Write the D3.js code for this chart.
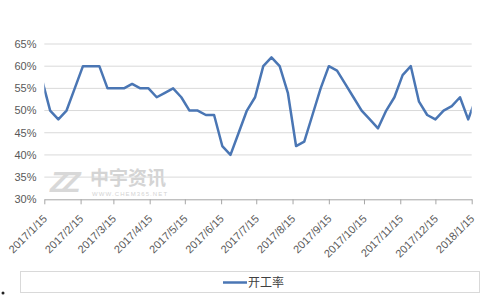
<!DOCTYPE html>
<html>
<head>
<meta charset="utf-8">
<script src="https://cdn.jsdelivr.net/npm/d3@7"></script>
<style>
  body { margin: 0; background: #fff; }
  svg text { font-family: "Liberation Sans", "Noto Sans CJK SC", sans-serif; fill: #595959; }
</style>
</head>
<body>
<script>
'use strict';

// weekly readings (Fridays), first and last fall just outside the axis range
const firstDate = '2017/1/13';
const lastDate = '2018/1/19';
const rates = [
  57, 50, 48, 50, 55, 60, 60, 60, 55, 55, 55, 56, 55, 55,
  53, 54, 55, 53, 50, 50, 49, 49, 42, 40, 45, 50, 53, 60,
  62, 60, 54, 42, 43, 49, 55, 60, 59, 56, 53, 50, 48, 46,
  50, 53, 58, 60, 52, 49, 48, 50, 51, 53, 48, 53
];
const xTicks = [
  '2017/1/15', '2017/2/15', '2017/3/15', '2017/4/15', '2017/5/15',
  '2017/6/15', '2017/7/15', '2017/8/15', '2017/9/15', '2017/10/15',
  '2017/11/15', '2017/12/15', '2018/1/15'
];
const yTicks = [30, 35, 40, 45, 50, 55, 60, 65];
const seriesName = '开工率';

const parse = d3.timeParse('%Y/%m/%d');
const dates = d3.timeFriday.range(parse(firstDate), d3.timeDay.offset(parse(lastDate), 1));
const data = dates.map((d, i) => ({ date: d, value: rates[i] }));

const plot = { left: 44.3, right: 471.7, top: 44, bottom: 199.3 };
const lineColor = '#4a76b4';

const x = d3.scaleTime()
  .domain([parse(xTicks[0]), parse(xTicks[xTicks.length - 1])])
  .range([plot.left, plot.right]);
const y = d3.scaleLinear().domain([30, 65]).range([plot.bottom, plot.top]);

const svg = d3.select('body').append('svg')
  .attr('width', 499).attr('height', 300)
  .attr('viewBox', '0 0 499 300');

svg.append('clipPath')
  .attr('id', 'plotClip')
  .append('rect')
    .attr('x', plot.left).attr('y', 0)
    .attr('width', plot.right - plot.left).attr('height', 300);

const appendWatermark = node => {
  const g = node.append('g').attr('opacity', 0.9);
  g.append('text')
    .attr('x', 50).attr('y', 192)
    .attr('font-size', 30).attr('font-weight', 'bold')
    .attr('font-style', 'italic')
    .attr('letter-spacing', -6)
    .style('fill', '#d4d4d4')
    .text('ZZ');
  g.append('text')
    .attr('x', 90).attr('y', 185)
    .attr('font-size', 19).attr('font-weight', 'bold')
    .style('font-family', '"Noto Sans CJK SC", sans-serif')
    .style('fill', '#d0d0d0')
    .text('中宇资讯');
  g.append('text')
    .attr('x', 92).attr('y', 196)
    .attr('font-size', 6)
    .attr('letter-spacing', 1.1)
    .style('fill', '#cfcfcf')
    .text('WWW.CHEM365.NET');
};

const appendYAxis = node => {
  const g = node.append('g');
  g.selectAll('line.grid')
    .data(yTicks.slice(1))
    .join('line')
      .attr('class', 'grid')
      .attr('x1', plot.left).attr('x2', plot.right)
      .attr('y1', d => y(d)).attr('y2', d => y(d))
      .attr('stroke', '#d9d9d9')
      .attr('stroke-width', 1);
  g.selectAll('text')
    .data(yTicks)
    .join('text')
      .attr('x', 36.5).attr('y', d => y(d))
      .attr('dy', '0.35em')
      .attr('text-anchor', 'end')
      .attr('font-size', 11)
      .text(d => d + '%');
};

const appendXAxis = node => {
  const axis = d3.axisBottom(x)
    .tickValues(xTicks.map(parse))
    .tickSize(5)
    .tickSizeOuter(0)
    .tickFormat(d3.timeFormat('%Y/%-m/%-d'));
  const g = node.append('g')
    .attr('transform', `translate(0, ${plot.bottom})`)
    .call(axis);
  g.attr('font-family', null);
  g.select('.domain').attr('stroke', '#a6a6a6');
  g.selectAll('.tick line').attr('stroke', '#a6a6a6');
  g.selectAll('.tick text')
    .attr('font-size', 11)
    .attr('text-anchor', 'end')
    .attr('y', 0).attr('dy', 0)
    .attr('transform', 'translate(3, 20) rotate(-45)');
};

const appendLine = node => {
  const line = d3.line()
    .x(d => x(d.date))
    .y(d => y(d.value));
  node.append('path')
    .datum(data)
    .attr('clip-path', 'url(#plotClip)')
    .attr('fill', 'none')
    .attr('stroke', lineColor)
    .attr('stroke-width', 2.5)
    .attr('stroke-linejoin', 'round')
    .attr('d', line);
};

const appendLegend = node => {
  node.append('rect')
    .attr('x', 20.5).attr('y', 271.5)
    .attr('width', 459).attr('height', 21)
    .attr('fill', '#fff')
    .attr('stroke', '#d9d9d9');
  node.append('line')
    .attr('x1', 223).attr('x2', 247)
    .attr('y1', 282.5).attr('y2', 282.5)
    .attr('stroke', lineColor)
    .attr('stroke-width', 2.5);
  node.append('text')
    .attr('x', 248).attr('y', 282.5)
    .attr('dy', '0.35em')
    .attr('font-size', 12)
    .style('font-family', '"Noto Sans CJK SC", sans-serif')
    .style('fill', '#404040')
    .text(seriesName);
  node.append('circle')
    .attr('cx', 3).attr('cy', 293)
    .attr('r', 1.5)
    .attr('fill', '#222');
};

appendWatermark(svg);
appendYAxis(svg);
appendXAxis(svg);
appendLine(svg);
appendLegend(svg);
</script>
</body>
</html>
